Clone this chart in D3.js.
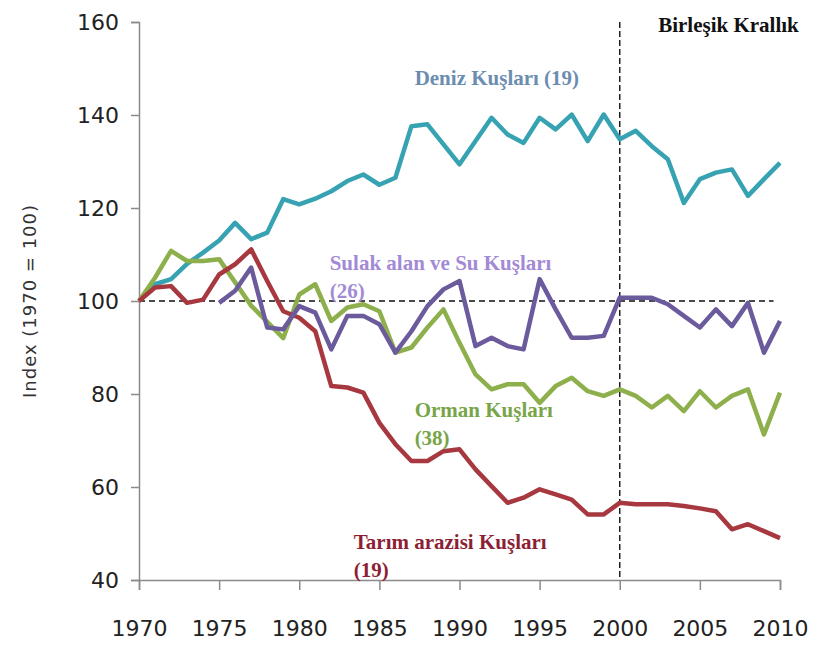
<!DOCTYPE html>
<html>
<head>
<meta charset="utf-8">
<script src="https://cdn.jsdelivr.net/npm/d3@7"></script>
<style>
  body { margin: 0; background: #fff; }
  .tick text { font-family: 'DejaVu Sans', sans-serif; font-size: 22px; fill: #222; }
  .axis path, .axis line { stroke: #8a8a8a; stroke-width: 1.5; }
  .series-label { font-family: 'Liberation Serif', serif; font-weight: bold; font-size: 21px; }
</style>
</head>
<body>
<div id="chart"></div>
<script>
const years = d3.range(1970, 2011)
const yTicks = [40, 60, 80, 100, 120, 140, 160]
const xTicks = [1970, 1975, 1980, 1985, 1990, 1995, 2000, 2005, 2010]

// Deniz Kuşları (19)
const deniz = [100, 103.6, 104.7, 108, 110.4, 113, 116.8, 113.3, 114.7, 121.9,
  120.8, 122, 123.6, 125.8, 127.2, 125, 126.5, 137.6, 138, 133.7,
  129.4, 134.4, 139.4, 135.8, 134, 139.4, 136.9, 140.1, 134.4, 140.1,
  134.8, 136.6, 133.3, 130.5, 121.1, 126.2, 127.6, 128.3, 122.6, 126.2, 129.7]

// Sulak alan ve Su Kuşları (26) - from 1975
const sulak = [null, null, null, null, null, 99.6, 102.2, 107.2, 94.3, 93.9,
  98.9, 97.5, 89.6, 96.8, 96.8, 95, 88.9, 93.5, 98.9, 102.5,
  104.3, 90.3, 92.1, 90.3, 89.6, 104.7, 98.2, 92.1, 92.1, 92.5,
  100.7, 100.7, 100.7, 99.3, 96.8, 94.3, 98.2, 94.6, 99.6, 88.9, 95.7]

// Orman Kuşları (38)
const orman = [100, 105, 110.8, 108.6, 108.6, 109, 104, 99, 95.5, 92,
  101.4, 103.6, 95.7, 98.6, 99.3, 97.8, 88.9, 90, 94.3, 98.2,
  91, 84.2, 81, 82.1, 82.1, 78.1, 81.7, 83.5, 80.6, 79.6,
  81, 79.6, 77.1, 79.6, 76.3, 80.6, 77.1, 79.6, 81, 71.3, 80.3]

// Tarım arazisi Kuşları (19)
const tarim = [100, 102.9, 103.2, 99.6, 100.3, 105.7, 107.9, 111.1, 104.3, 97.8,
  96.4, 93.5, 81.7, 81.4, 80.3, 73.8, 69.2, 65.6, 65.6, 67.7,
  68.1, 63.8, 60.2, 56.6, 57.7, 59.5, 58.4, 57.3, 54.1, 54.1,
  56.6, 56.3, 56.3, 56.3, 55.9, 55.4, 54.8, 50.9, 52, 50.5, 49]

const drawChart = () => {
  const margin = { top: 22, right: 40, bottom: 68, left: 139 }
  const width = 820
  const height = 648
  const innerWidth = width - margin.left - margin.right
  const innerHeight = height - margin.top - margin.bottom

  const svg = d3.select('#chart')
    .append('svg')
    .attr('width', width)
    .attr('height', height)

  const g = svg.append('g')
    .attr('transform', `translate(${margin.left}, ${margin.top})`)

  const x = d3.scaleLinear().domain([1970, 2010]).range([0, innerWidth])
  const y = d3.scaleLinear().domain([40, 160]).range([innerHeight, 0])

  // Axes
  g.append('g')
    .attr('class', 'axis')
    .attr('transform', `translate(0, ${innerHeight})`)
    .call(d3.axisBottom(x).tickValues(xTicks).tickFormat(d3.format('d')).tickSize(10).tickPadding(30))

  g.append('g')
    .attr('class', 'axis')
    .call(d3.axisLeft(y).tickValues(yTicks).tickSize(8).tickPadding(12))

  svg.selectAll('.axis .domain').attr('stroke', '#8a8a8a')

  // Y axis title
  svg.append('text')
    .attr('transform', `translate(36, ${margin.top + y(100)}) rotate(-90)`)
    .attr('text-anchor', 'middle')
    .style('font-family', "'DejaVu Sans', sans-serif")
    .style('font-size', '18px')
    .style('letter-spacing', '1px')
    .attr('fill', '#333')
    .text('Index (1970 = 100)')

  // Reference lines
  g.append('line')
    .attr('x1', x(1970)).attr('x2', x(2009.6))
    .attr('y1', y(100)).attr('y2', y(100))
    .attr('stroke', '#111').attr('stroke-width', 1.6)
    .attr('stroke-dasharray', '6,4')

  g.append('line')
    .attr('x1', x(2000)).attr('x2', x(2000))
    .attr('y1', y(160)).attr('y2', y(40))
    .attr('stroke', '#111').attr('stroke-width', 1.4)
    .attr('stroke-dasharray', '6,3')

  // Series
  const series = [
    { values: deniz, color: '#37a3b2' },
    { values: orman, color: '#8db04c' },
    { values: tarim, color: '#a8383f' },
    { values: sulak, color: '#6b5a9c' }
  ]

  const line = d3.line()
    .defined(d => d.v != null)
    .x(d => x(d.year))
    .y(d => y(d.v))

  series.forEach(s => {
    g.append('path')
      .datum(years.map((yr, i) => ({ year: yr, v: s.values[i] })))
      .attr('fill', 'none')
      .attr('stroke', s.color)
      .attr('stroke-width', 4.5)
      .attr('stroke-linejoin', 'round')
      .attr('d', line)
  })

  // Labels
  const labels = [
    { lines: ['Deniz Kuşları (19)'], year: 1987.2, v: 146.4, color: '#6b8db0' },
    { lines: ['Sulak alan ve Su Kuşları', '(26)'], year: 1981.9, v: 106.6, color: '#a38ad6' },
    { lines: ['Orman Kuşları', '(38)'], year: 1987.2, v: 75, color: '#78a548' },
    { lines: ['Tarım arazisi Kuşları', '(19)'], year: 1983.4, v: 46.6, color: '#8c1f35' },
    { lines: ['Birleşik Krallık'], year: 2002.4, v: 157.8, color: '#111' }
  ]

  labels.forEach(l => {
    const t = g.append('text')
      .attr('class', 'series-label')
      .attr('x', x(l.year))
      .attr('y', y(l.v))
      .attr('fill', l.color)
    l.lines.forEach((s, i) => {
      t.append('tspan')
        .attr('x', x(l.year))
        .attr('dy', i === 0 ? 0 : 28)
        .text(s)
    })
  })
}

drawChart()
</script>
</body>
</html>
